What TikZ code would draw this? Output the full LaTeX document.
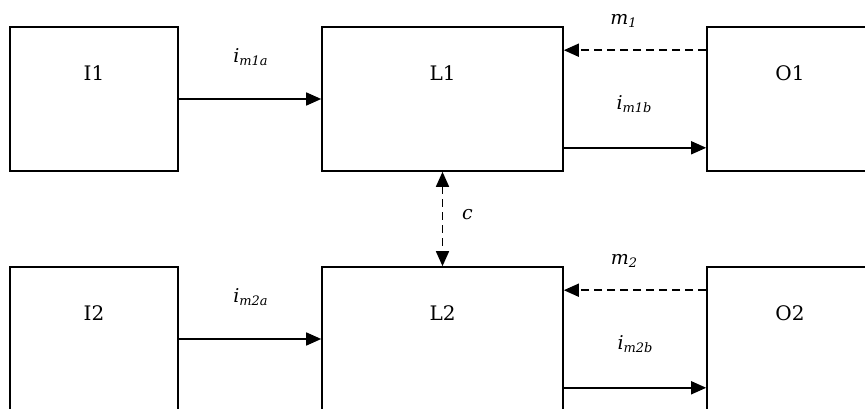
\documentclass[tikz,border=0pt]{standalone}
\usepackage{fontspec}
\setmainfont{DejaVu Serif}
\usetikzlibrary{arrows.meta}
\newcommand{\lblsub}[2]{#1\raisebox{-2.5pt}{\fontsize{13}{15}\selectfont #2}}
\begin{document}
\begin{tikzpicture}[x=1pt,y=1pt,
  blk/.style={draw,line width=1.6pt,minimum height=144pt,inner sep=0pt},
  blktext/.style={font=\fontsize{20}{22}\selectfont,anchor=base,inner sep=0pt},
  lbl/.style={font=\fontsize{19}{21}\selectfont\itshape,inner sep=0pt,anchor=base},
  arr/.style={line width=1.5pt,-{Triangle[length=15pt,width=13pt]}},
  darr/.style={arr,dash pattern=on 8pt off 5pt}]
\useasboundingbox (0,0) rectangle (865,409);
\clip (0,0) rectangle (865,409);
\fill[white] (0,0) rectangle (865,409);
% boxes
\node[blk,minimum width=168pt] (I1) at (94,310) {};
\node[blk,minimum width=241pt] (L1) at (442.5,310) {};
\node[blk,minimum width=166pt] (O1) at (790,310) {};
\node[blk,minimum width=168pt] (I2) at (94,70) {};
\node[blk,minimum width=241pt] (L2) at (442.5,70) {};
\node[blk,minimum width=166pt] (O2) at (790,70) {};
% box texts
\node[blktext] (tI1) at ([yshift=18.3pt]I1.center) {I1};
\node[blktext] (tL1) at ([yshift=18.3pt]L1.center) {L1};
\node[blktext] (tO1) at ([yshift=18.3pt]O1.center) {O1};
\node[blktext] (tI2) at ([yshift=18.3pt]I2.center) {I2};
\node[blktext] (tL2) at ([yshift=18.3pt]L2.center) {L2};
\node[blktext] (tO2) at ([yshift=18.3pt]O2.center) {O2};
% connectors
\draw[arr] (I1.east) -- (L1.west);
\draw[arr] (I2.east) -- (L2.west);
\draw[darr] ([yshift=-24pt]O1.north west) -- ([yshift=-24pt]L1.north east);
\draw[darr] ([yshift=-24pt]O2.north west) -- ([yshift=-24pt]L2.north east);
\draw[arr] ([yshift=24pt]L1.south east) -- ([yshift=24pt]O1.south west);
\draw[arr] ([yshift=24pt]L2.south east) -- ([yshift=24pt]O2.south west);
\draw[darr,{Triangle[length=15pt,width=13pt]}-{Triangle[length=15pt,width=13pt]}] (L1.south) -- (L2.north);
% labels
\node[lbl] (la) at (250.5,346.3) {\lblsub{i}{m1a}};
\node[lbl] (lm1) at (623.5,384) {\lblsub{m}{1}};
\node[lbl] (lb) at (634,299) {\lblsub{i}{m1b}};
\node[lbl] (lc) at (467.5,189) {c};
\node[lbl] (la2) at (250.5,106.3) {\lblsub{i}{m2a}};
\node[lbl] (lm2) at (624,144) {\lblsub{m}{2}};
\node[lbl] (lb2) at (635,59) {\lblsub{i}{m2b}};
\end{tikzpicture}
\end{document}
